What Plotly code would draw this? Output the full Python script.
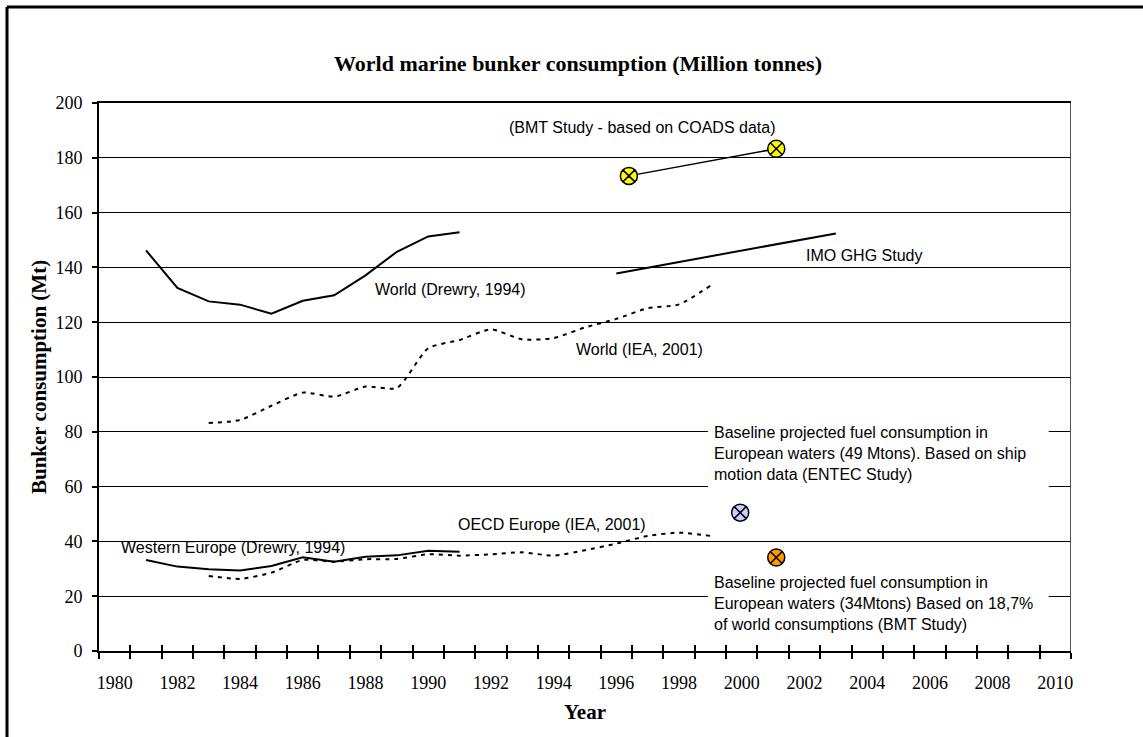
import plotly.graph_objects as go

# ---------------- data ----------------
years_drewry = list(range(1981, 1992))
world_drewry = [146.2, 132.5, 127.6, 126.4, 123.1, 127.8, 129.8, 137.1, 145.7, 151.3, 152.8]
weur_drewry = [33.2, 30.8, 29.8, 29.4, 31.0, 34.2, 32.6, 34.4, 34.9, 36.6, 36.2]

years_iea = list(range(1983, 2000))
world_iea = [83.2, 84.3, 89.5, 94.3, 92.8, 96.5, 96.0, 110.5, 113.5, 117.4, 113.7,
             114.2, 118.1, 121.2, 125.1, 126.5, 133.3]
oecd_iea = [27.4, 26.3, 28.6, 33.2, 32.6, 33.5, 33.6, 35.3, 34.8, 35.3, 36.0,
            34.8, 36.8, 39.2, 42.0, 43.2, 42.0]

imo_years = [1996, 2003]
imo_vals = [137.8, 152.4]

bmt_years = [1996.4, 2001.1]
bmt_vals = [173.4, 183.3]

entec_year = [1999.95]
entec_val = [50.5]

bmt_eu_year = [2001.1]
bmt_eu_val = [34.1]

tick_years = list(range(1980, 2011, 2))
tick_text = [str(y) for y in tick_years]
cat_edges = [1979.5 + k for k in range(32)]

SERIF = "Liberation Serif"
SANS = "Liberation Sans"
DOT = "4px,5px"

fig = go.Figure()

fig.add_trace(go.Scatter(x=years_drewry, y=world_drewry, mode="lines",
                         line=dict(color="black", width=2)))
fig.add_trace(go.Scatter(x=years_drewry, y=weur_drewry, mode="lines",
                         line=dict(color="black", width=2)))
fig.add_trace(go.Scatter(x=years_iea, y=world_iea, mode="lines",
                         line=dict(color="black", width=2, dash=DOT, shape="spline", smoothing=0.6)))
fig.add_trace(go.Scatter(x=years_iea, y=oecd_iea, mode="lines",
                         line=dict(color="black", width=2, dash=DOT, shape="spline", smoothing=0.6)))
fig.add_trace(go.Scatter(x=imo_years, y=imo_vals, mode="lines",
                         line=dict(color="black", width=2)))
fig.add_trace(go.Scatter(x=bmt_years, y=bmt_vals, mode="lines+markers",
                         line=dict(color="black", width=1.5),
                         marker=dict(symbol="circle-x", size=17, color="#FFFF00",
                                     line=dict(color="black", width=1.5))))
fig.add_trace(go.Scatter(x=entec_year, y=entec_val, mode="markers",
                         marker=dict(symbol="circle-x", size=17, color="#CCCCFF",
                                     line=dict(color="black", width=1.5))))
fig.add_trace(go.Scatter(x=bmt_eu_year, y=bmt_eu_val, mode="markers",
                         marker=dict(symbol="circle-x", size=17, color="#FF9900",
                                     line=dict(color="black", width=1.5))))
# invisible trace to carry the overlay axis (inside half of crossing ticks)
fig.add_trace(go.Scatter(x=[1979.5, 2010.5], y=[None, None], xaxis="x2",
                         mode="lines", hoverinfo="skip"))

W, H = 1143, 737
L, R, T, B = 99, 72, 103, 86

fig.update_layout(
    width=W, height=H, showlegend=False,
    margin=dict(l=L, r=R, t=T, b=B, pad=0),
    paper_bgcolor="white", plot_bgcolor="white",
    title=dict(text="<b>World marine bunker consumption (Million tonnes)</b>",
               font=dict(family=SERIF, size=22, color="black"),
               x=0.5057, xref="container", xanchor="center",
               y=1 - 63 / H, yref="container", yanchor="middle"),
    xaxis=dict(range=[1979.5, 2010.5], tickmode="array", tickvals=tick_years,
               ticktext=tick_text, ticks="outside", ticklen=14,
               tickcolor="rgba(0,0,0,0)",
               tickfont=dict(family=SERIF, size=18, color="black"),
               showgrid=False, zeroline=False,
               showline=True, linecolor="black", linewidth=2, mirror=True,
               minor=dict(tickmode="array", tickvals=cat_edges, ticks="outside",
                          ticklen=6, tickcolor="black", tickwidth=1.5, showgrid=False)),
    xaxis2=dict(range=[1979.5, 2010.5], overlaying="x", anchor="y", side="bottom",
                tickmode="array", tickvals=cat_edges, ticks="inside", ticklen=6,
                tickcolor="black", tickwidth=1.5, showticklabels=False,
                showgrid=False, zeroline=False, showline=False),
    yaxis=dict(range=[0, 200], tickmode="linear", tick0=0, dtick=20,
               ticks="outside", ticklen=5, tickcolor="black", tickwidth=1.5,
               ticklabelstandoff=6,
               tickfont=dict(family=SERIF, size=18, color="black"),
               showgrid=True, gridcolor="black", gridwidth=1,
               zeroline=False, showline=True, linecolor="black", linewidth=2),
)

# right plot-area border (gray)
fig.add_shape(type="line", xref="x", yref="y", x0=2010.5, x1=2010.5, y0=0, y1=200,
              line=dict(color="#555555", width=2))

# white label boxes hiding gridlines behind the text blocks
fig.add_shape(type="rect", xref="x", yref="y", x0=1998.92, x1=2009.79, y0=58.0, y1=84.0,
              fillcolor="white", line=dict(width=0), layer="between")
fig.add_shape(type="rect", xref="x", yref="y", x0=1998.92, x1=2009.79, y0=5.5, y1=28.8,
              fillcolor="white", line=dict(width=0), layer="between")

# outer chart frame (left and top edges)
FX, FY = 7, 7
fig.add_shape(type="line", xref="paper", yref="paper",
              x0=(FX - L) / 972, x1=(FX - L) / 972, y0=(651 - FY) / 548, y1=-0.2,
              line=dict(color="black", width=3))
fig.add_shape(type="line", xref="paper", yref="paper",
              x0=(FX - L) / 972, x1=1.1, y0=(651 - FY) / 548, y1=(651 - FY) / 548,
              line=dict(color="black", width=3))

# axis titles
fig.add_annotation(text="<b>Bunker consumption (Mt)</b>", xref="paper", yref="paper",
                   x=(39 - L) / 972, y=0.5, textangle=-90, showarrow=False,
                   xanchor="center", yanchor="middle",
                   font=dict(family=SERIF, size=21, color="black"))
fig.add_annotation(text="<b>Year</b>", xref="paper", yref="paper",
                   x=0.5, y=(651 - 712) / 548, showarrow=False,
                   xanchor="center", yanchor="middle",
                   font=dict(family=SERIF, size=21, color="black"))

labels = [
    ("(BMT Study - based on COADS data)", 1992.5, 190.9),
    ("World (Drewry, 1994)", 1988.23, 132.1),
    ("IMO GHG Study", 2002.0, 144.5),
    ("World (IEA, 2001)", 1994.64, 110.2),
    ("OECD Europe (IEA, 2001)", 1990.9, 46.0),
    ("Western Europe (Drewry, 1994)", 1980.13, 37.6),
    ("Baseline projected fuel consumption in<br>European waters (49 Mtons). Based on ship<br>motion data (ENTEC Study)", 1999.04, 71.9),
    ("Baseline projected fuel consumption in<br>European waters (34Mtons) Based on 18,7%<br>of world consumptions (BMT Study)", 1999.04, 17.2),
]
for txt, lx, ly in labels:
    fig.add_annotation(text=txt, x=lx, y=ly, xref="x", yref="y", showarrow=False,
                       xanchor="left", yanchor="middle", align="left",
                       font=dict(family=SANS, size=16, color="black"))

fig.write_html("out.html")
